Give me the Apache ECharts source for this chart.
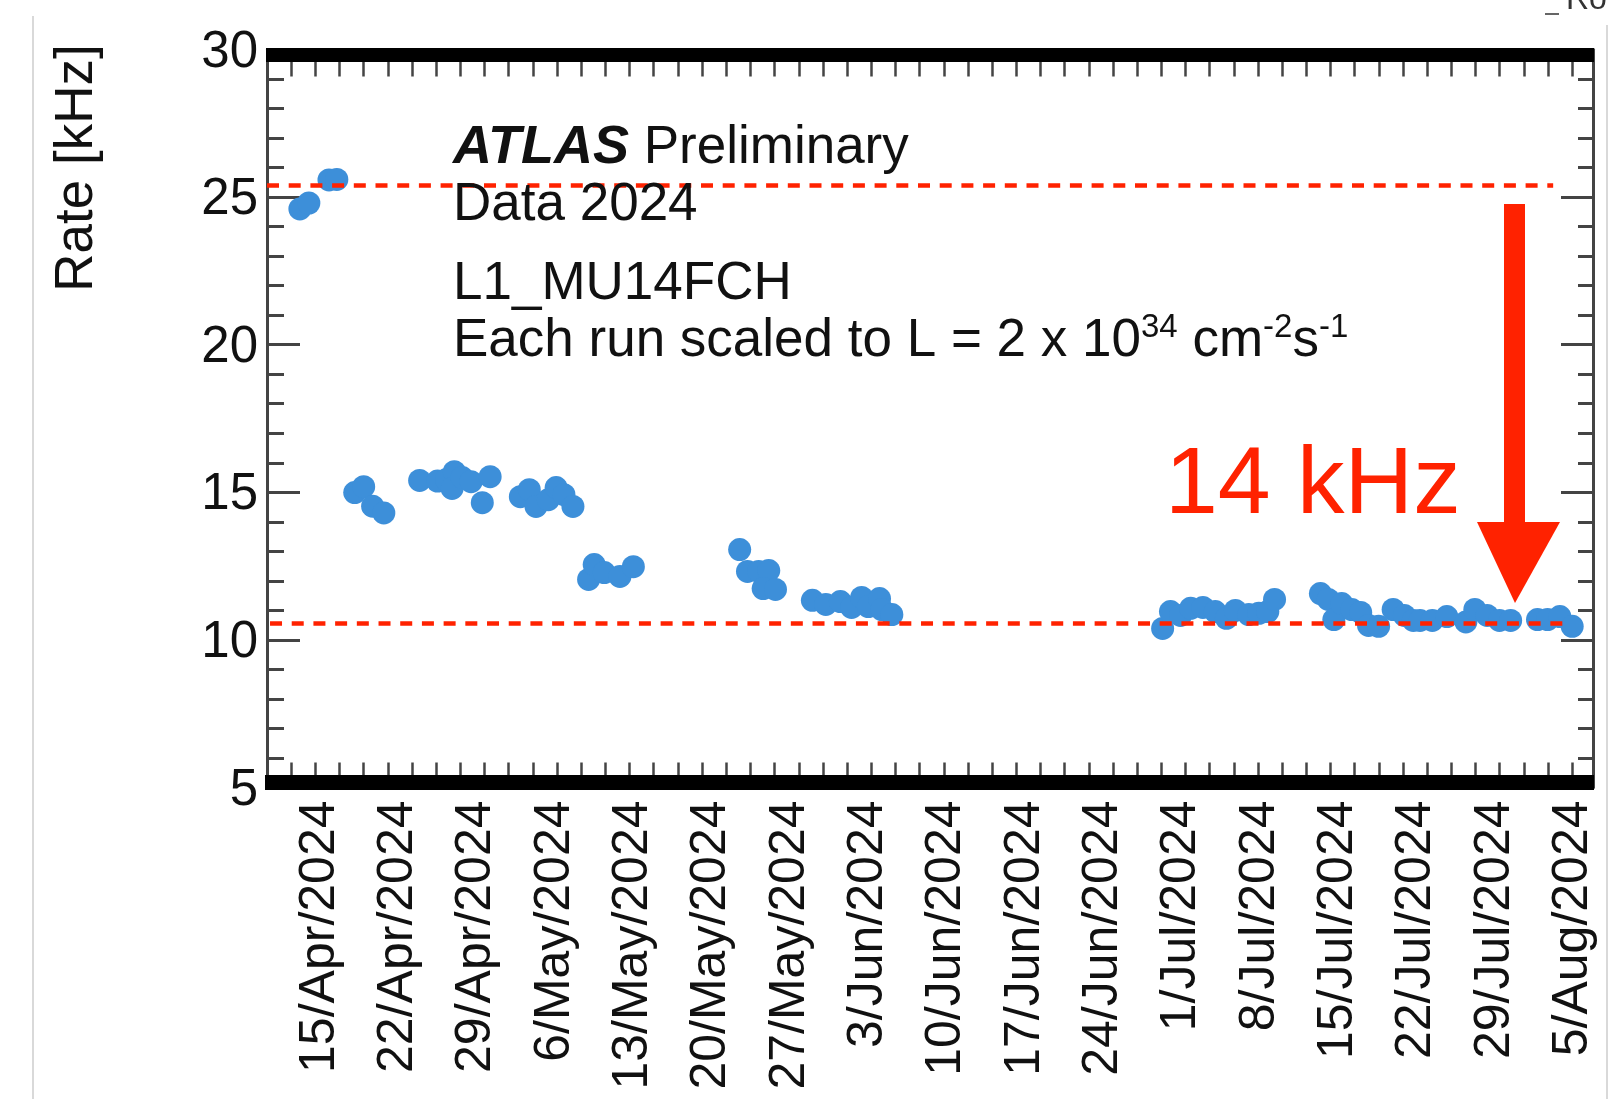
<!DOCTYPE html>
<html>
<head>
<meta charset="utf-8">
<script src="https://cdn.jsdelivr.net/npm/echarts@6/dist/echarts.min.js"></script>
<style>
  html, body { margin: 0; padding: 0; background: #ffffff; }
  #chart { width: 1615px; height: 1099px; }
</style>
</head>
<body>
<div id="chart"></div>
<script>
// ---- data (days counted from 15/Apr/2024, rates in kHz) ----
const runDay = [
  -1.8, -1.0, 0.8, 1.5,
  3.1, 3.9, 4.7, 5.7,
  8.9, 10.5, 11.3, 12.0, 11.8, 12.7, 13.5, 15.2, 14.5,
  17.9, 18.7, 19.3, 20.4, 21.1, 21.8, 22.6,
  24.0, 24.5, 25.4, 26.8, 28.0,
  37.5, 38.2, 39.2, 40.1, 39.6, 40.7,
  44.0, 45.2, 46.5, 47.5, 48.4, 49.0, 50.0, 50.2, 51.1,
  75.3, 76.0, 76.9, 77.8, 78.9, 80.0, 81.0, 81.8, 83.0, 83.9, 84.7, 85.3,
  89.4, 90.1, 90.6, 91.3, 92.2, 93.0, 93.7, 94.6, 95.9, 96.9, 97.7, 98.3,
  99.4, 100.7, 102.4, 103.2, 104.3, 105.4, 106.4, 108.8, 109.7, 110.8, 111.9
];
const runRate = [
  24.60, 24.80, 25.58, 25.60,
  14.99, 15.19, 14.53, 14.30,
  15.40, 15.38, 15.43, 15.70, 15.13, 15.50, 15.36, 15.53, 14.65,
  14.85, 15.09, 14.52, 14.75, 15.16, 14.92, 14.52,
  12.05, 12.55, 12.28, 12.15, 12.48,
  13.06, 12.32, 12.32, 12.35, 11.74, 11.71,
  11.34, 11.20, 11.30, 11.10, 11.44, 11.13, 11.40, 11.03, 10.86,
  10.39, 10.96, 10.83, 11.07, 11.10, 10.96, 10.73, 11.00, 10.86, 10.90, 10.96, 11.37,
  11.57, 11.37, 10.69, 11.23, 11.03, 10.93, 10.49, 10.46, 11.03, 10.83, 10.66, 10.66,
  10.66, 10.79, 10.61, 11.03, 10.83, 10.66, 10.66, 10.69, 10.69, 10.79, 10.46
];
const labelDays = [0, 7, 14, 21, 28, 35, 42, 49, 56, 63, 70, 77, 84, 91, 98, 105, 112];
const dateLabels = ['15/Apr/2024', '22/Apr/2024', '29/Apr/2024', '6/May/2024', '13/May/2024',
  '20/May/2024', '27/May/2024', '3/Jun/2024', '10/Jun/2024', '17/Jun/2024', '24/Jun/2024',
  '1/Jul/2024', '8/Jul/2024', '15/Jul/2024', '22/Jul/2024', '29/Jul/2024', '5/Aug/2024'];
const refLevels = [25.4, 10.56];
const refStart = [-4.74, -4.47];
const refEnd = [110.2, 111.2];

// ---- chart ----
const FONT = '"Liberation Sans", Arial, Helvetica, sans-serif';
const RED = '#ff2200';
const AX = '#444444';
const TXT = 53;
const chart = echarts.init(document.getElementById('chart'), null, { renderer: 'canvas' });

const points = runDay.map((d, i) => [d, runRate[i]]);

const tickAxis = (pos, len) => ({
  type: 'value', position: pos, min: 0, max: 54.86, interval: 1,
  axisLine: { show: false, onZero: false },
  axisTick: { show: true, inside: true, length: len, lineStyle: { color: AX, width: 2.5 } },
  axisLabel: { show: false }, splitLine: { show: false }
});

const option = {
  backgroundColor: '#ffffff',
  animation: false,
  grid: { left: 267, right: 22, top: 49.5, bottom: 311.5, containLabel: false, outerBoundsMode: 'none' },
  xAxis: [
    {
      type: 'value', position: 'bottom', min: -4.74, max: 113.76,
      axisLine: { show: false, onZero: false },
      axisTick: { show: false },
      splitLine: { show: false },
      axisLabel: {
        customValues: labelDays, rotate: 90, margin: 13,
        fontSize: 50, fontFamily: FONT, color: '#111111',
        formatter: v => dateLabels[labelDays.indexOf(Math.round(v))] || ''
      }
    },
    tickAxis('bottom', 25),
    tickAxis('top', 27)
  ],
  yAxis: [
    {
      type: 'value', position: 'left', min: 5, max: 30, interval: 5,
      axisLine: { show: true, onZero: false, lineStyle: { color: AX, width: 3 } },
      axisTick: { show: true, inside: true, length: 33, lineStyle: { color: AX, width: 3 } },
      minorTick: { show: true, splitNumber: 5, length: 17, lineStyle: { color: AX, width: 3 } },
      axisLabel: {
        margin: 9, fontSize: 51, fontFamily: FONT, color: '#111111',
        formatter: '{v|{value}}',
        rich: { v: { fontSize: 51, fontFamily: FONT, color: '#111111', padding: [6, 0, 0, 0] } }
      },
      splitLine: { show: false }
    },
    {
      type: 'value', position: 'right', min: 5, max: 30, interval: 5,
      axisLine: { show: true, onZero: false, lineStyle: { color: AX, width: 3 } },
      axisTick: { show: true, inside: true, length: 32, lineStyle: { color: AX, width: 3 } },
      minorTick: { show: true, splitNumber: 5, length: 15, lineStyle: { color: AX, width: 3 } },
      axisLabel: { show: false },
      splitLine: { show: false }
    }
  ],
  series: [{
    type: 'scatter', xAxisIndex: 0, yAxisIndex: 0,
    data: points, symbol: 'circle', symbolSize: 23,
    itemStyle: { color: '#3d8fd9', opacity: 1 },
    markLine: {
      silent: true, symbol: 'none', z: 5,
      label: { show: false },
      lineStyle: { color: RED, width: 4.5, type: [12, 9.7], cap: 'butt' },
      data: refLevels.map((v, i) => [{ coord: [refStart[i], v] }, { coord: [refEnd[i], v] }])
    }
  }],
  graphic: [
    { type: 'line', z: 100, shape: { x1: 33, y1: 16, x2: 33, y2: 1099 }, style: { stroke: '#cccccc', lineWidth: 1.5 } },
    { type: 'line', z: 100, shape: { x1: 1607, y1: 25, x2: 1607, y2: 1099 }, style: { stroke: '#cccccc', lineWidth: 1.5 } },
    { type: 'line', z: 100, shape: { x1: 1545, y1: 14, x2: 1559, y2: 14 }, style: { stroke: '#666666', lineWidth: 2 } },
    { type: 'text', z: 100, x: 1566, y: 16, style: { text: 'Ro', fontSize: 32, fontFamily: FONT, fill: '#333333', verticalAlign: 'bottom' } },
    // thick frame bars
    { type: 'rect', z: 100, shape: { x: 266, y: 48, width: 1328, height: 14 }, style: { fill: '#000000' } },
    { type: 'rect', z: 100, shape: { x: 265, y: 775, width: 1329, height: 15 }, style: { fill: '#000000' } },
    // y axis title
    { type: 'text', z: 100, x: 77, y: 168, rotation: Math.PI / 2,
      style: { text: 'Rate [kHz]', fontSize: 53, fontFamily: FONT, fill: '#111111', align: 'center', verticalAlign: 'middle' } },
    // annotation texts
    { type: 'text', z: 100, x: 453, y: 148,
      style: { text: '{b|ATLAS} Preliminary', fontSize: TXT, fontFamily: FONT, fill: '#111111', verticalAlign: 'middle',
        rich: { b: { fontSize: 54, fontFamily: FONT, fontWeight: 'bold', fontStyle: 'italic', fill: '#111111' } } } },
    { type: 'text', z: 100, x: 453, y: 205,
      style: { text: 'Data 2024', fontSize: TXT, fontFamily: FONT, fill: '#111111', verticalAlign: 'middle' } },
    { type: 'text', z: 100, x: 453, y: 284,
      style: { text: 'L1_MU14FCH', fontSize: TXT, fontFamily: FONT, fill: '#111111', verticalAlign: 'middle' } },
    { type: 'text', z: 100, x: 453, y: 341,
      style: { text: 'Each run scaled to L = 2 x 10{a|34} cm{c|-2}s{c|-1}', fontSize: TXT, lineHeight: 60,
        fontFamily: FONT, fill: '#111111', verticalAlign: 'middle',
        rich: {
          a: { fontSize: 33, lineHeight: 10, verticalAlign: 'top', fontFamily: FONT, fill: '#111111' },
          c: { fontSize: 33, lineHeight: 26, verticalAlign: 'top', fontFamily: FONT, fill: '#111111' }
        } } },
    // 14 kHz and arrow
    { type: 'text', z: 100, x: 1165, y: 487,
      style: { text: '14 kHz', fontSize: 95, fontFamily: FONT, fill: RED, verticalAlign: 'middle' } },
    { type: 'rect', z: 100, shape: { x: 1504, y: 204, width: 21, height: 320 }, style: { fill: RED } },
    { type: 'polygon', z: 100, shape: { points: [[1477, 522], [1560, 522], [1515, 603]] }, style: { fill: RED } }
  ]
};
chart.setOption(option);
</script>
</body>
</html>
